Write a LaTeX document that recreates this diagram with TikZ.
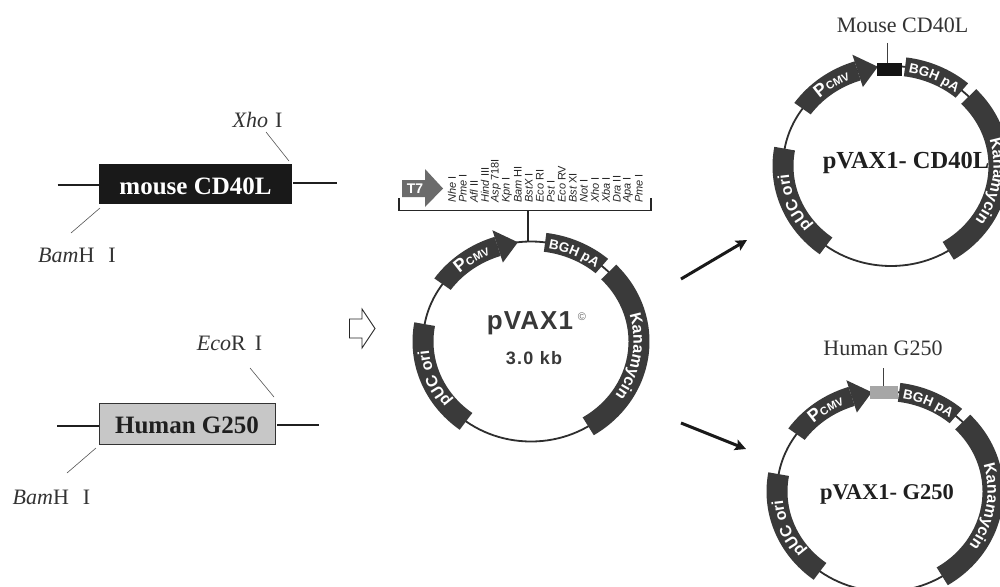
\documentclass[tikz,border=0pt]{standalone}
\usepackage{fontspec}
\setmainfont{Liberation Serif}
\newfontfamily\arialf{Liberation Sans}
\newfontfamily\arialsp[LetterSpace=4]{Liberation Sans}
\newfontfamily\arialsq[LetterSpace=7]{Liberation Sans}
\usetikzlibrary{decorations.text,arrows.meta}
\definecolor{band}{HTML}{3A3A3A}
\definecolor{ringc}{HTML}{2E2E2E}
\definecolor{leader}{HTML}{555555}
\newcommand\fsz[1]{\fontsize{#1}{#1}\selectfont}
\newcommand\bandtxt{\fsz{13.5}\arialf\bfseries}
\newcommand\bandbig{\fsz{16}\arialf\bfseries}
\newcommand\pcmvP{\fsz{18}\arialf\bfseries}
\newcommand\pcmvC{\fsz{11}\arialf\bfseries}
\newcommand\band[4]{% t1,t2,d1,d2
  \fill[band] (#1:108pt+#4 and 100pt+#4)
    arc[start angle=#1,end angle=#2,x radius=108pt+#4,y radius=100pt+#4]
    -- (#2:108pt+#3 and 100pt+#3)
    arc[start angle=#2,end angle=#1,x radius=108pt+#3,y radius=100pt+#3] -- cycle;}
\newcommand\bandlabel[3]{% t1,t2,text
  \path[decorate,decoration={text along path,text={#3},text color=white,text align=center}]
    (#1:102.5pt and 94.5pt) arc[start angle=#1,end angle=#2,x radius=102.5pt,y radius=94.5pt];}
\newcommand\plasmid[2]{%
 \begin{scope}[shift={(#1,#2)},y=1pt]
  \draw[ringc,line width=1.8pt] (0,0) ellipse[x radius=108pt,y radius=100pt];
  \band{170}{233}{-10.5pt}{10.5pt}
  \band{44}{-58}{-10.5pt}{10.5pt}
  \band{82.5}{49}{-9.5pt}{9.5pt}
  \band{145}{108}{-10pt}{10pt}
  \fill[band] (108:108pt+17pt and 100pt+17pt) -- (97:108pt and 100pt) -- (108:108pt-17pt and 100pt-17pt) -- cycle;
  \bandlabel{229}{175}{|\bandbig|pUC ori}
  \bandlabel{38}{-56}{|\bandbig|Kanamycin}
  \bandlabel{84}{47}{|\bandtxt|BGH pA}
  \bandlabel{148}{100}{|\pcmvP|P|\pcmvC|CMV}
 \end{scope}}
\tikzset{
  wire/.style={line width=2pt,black!88},
  lead/.style={leader,line width=0.6pt},
  serif/.style={font=\fsz{22},text=black!80,inner sep=0pt},
  title/.style={font=\fsz{24.5}\bfseries,text=black!88,inner sep=0pt},
  enz/.style={rotate=90,anchor=west,inner sep=0pt,font=\fsz{11}\arialf,text=black!85},
  bigarrow/.style={line width=3pt,black!90,-{Stealth[length=11pt,width=11pt,inset=2pt]}},
  insertbox/.style={inner sep=0pt,font=\fsz{25}\bfseries,text height=20pt,text depth=0pt},
}
\begin{document}
\begin{tikzpicture}[x=1pt,y=-1pt]
\useasboundingbox (0,0) rectangle (1000,586);
\clip (0,0) rectangle (1000,586);
\fill[white] (0,0) rectangle (1000,586);

% mouse insert
\node[insertbox,fill=black!90,minimum width=193pt,minimum height=40pt,text=white] (mbox) at (195.5,184) {mouse CD40L};
\coordinate (ml) at (57.5,184.5); \coordinate (mlb) at (99,184.5);
\coordinate (mr) at (337,183); \coordinate (mrb) at (293,183);
\draw[wire] (ml) -- (mlb);
\draw[wire] (mrb) -- (mr);
\node[serif] (xho) at (257.5,120) {\textit{Xho}\hspace{7pt}I};
\node[serif] (bam1) at (77,255) {\textit{Bam}H\hspace{14pt}I};
\coordinate (xa) at (266,132); \coordinate (xb) at (289,161);
\coordinate (ba) at (71,233); \coordinate (bb) at (100,208);
\draw[lead] (xa) -- (xb);
\draw[lead] (ba) -- (bb);

% human insert
\node[insertbox,draw=black!80,line width=0.9pt,fill=black!22,minimum width=176pt,minimum height=41pt,text=black!88] (hbox) at (187,423.5) {Human G250};
\coordinate (hl) at (57,426); \coordinate (hlb) at (99,426);
\coordinate (hr) at (319,425); \coordinate (hrb) at (277,425);
\draw[wire] (hl) -- (hlb);
\draw[wire] (hrb) -- (hr);
\node[serif] (eco) at (229.5,343) {\textit{Eco}R\hspace{9pt}I};
\node[serif] (bam2) at (51.5,497) {\textit{Bam}H\hspace{14pt}I};
\coordinate (ea) at (250,368); \coordinate (eb) at (274,397);
\coordinate (ca) at (67,473); \coordinate (cb) at (96,448);
\draw[lead] (ea) -- (eb);
\draw[lead] (ca) -- (cb);

% hollow arrow
\draw[black!85,line width=0.9pt] (349.5,319) -- (362,319) -- (362,309) -- (375,328.5) -- (362,348) -- (362,338) -- (349.5,338) -- cycle;

% centre plasmid
\plasmid{531}{341.5}
\node[inner sep=0pt,font=\fsz{26}\arialsp\bfseries,text=black!78] (pv) at (530,323) {pVAX1};
\node[inner sep=0pt,font=\fsz{11}\arialf,text=black!60] (cp) at (582,317) {©};
\node[inner sep=0pt,font=\fsz{18}\arialsq\bfseries,text=black!78] (kb) at (534,358) {3.0 kb};

% MCS bracket
\coordinate (bl) at (399,198); \coordinate (blc) at (399,210.5);
\coordinate (brc) at (651,210.5); \coordinate (br) at (651,198);
\coordinate (st) at (528,210.5); \coordinate (sb) at (528,241);
\draw[black!85,line width=1.8pt] (bl) -- (blc) -- (brc) -- (br);
\draw[black!85,line width=1.4pt] (st) -- (sb);
\fill[black!58] (402,180) -- (425,180) -- (425,169) -- (443,188.5) -- (425,207) -- (425,197) -- (402,197) -- cycle;
\node[inner sep=0pt,text=white,font=\fsz{14}\arialf\bfseries] (t7) at (415,189) {T7};
\foreach \nm/\lab [count=\i from 0] in {a/\textit{Nhe} I,b/\textit{Pme} I,c/\textit{Afl} II,d/\textit{Hind} III,e/\textit{Asp} 718I,f/\textit{Kpn} I,g/\textit{Bam} HI,h/\textit{BstX} I,j/\textit{Eco} RI,k/\textit{Pst} I,l/\textit{Eco} RV,m/\textit{Bst} XI,n/\textit{Not} I,o/\textit{Xho} I,p/\textit{Xba} I,q/\textit{Dra} II,r/\textit{Apa} I,s/\textit{Pme} I}
  \node[enz] (enz\nm) at ({452+11*\i},203) {\lab};

% arrows
\coordinate (a1) at (681,279); \coordinate (a2) at (747,240);
\coordinate (a3) at (681,423); \coordinate (a4) at (746,449);
\draw[bigarrow] (a1) -- (a2);
\draw[bigarrow] (a3) -- (a4);

% upper plasmid
\plasmid{891}{166}
\node[serif] (mc) at (902.5,25) {Mouse CD40L};
\node[fill=black!92,minimum width=25pt,minimum height=13pt,inner sep=0pt] (mins) at (889.5,69.5) {};
\coordinate (mt) at (887.5,43);
\draw[black!75,line width=1pt] (mt) -- (mt |- mins.north);
\node[title] (pc) at (906,163) {pVAX1- CD40L};

% lower plasmid
\plasmid{885}{491.5}
\node[serif] (hc) at (883,348) {Human G250};
\node[fill=black!35,minimum width=28pt,minimum height=13pt,inner sep=0pt] (hins) at (884,392.5) {};
\coordinate (ht) at (883,368);
\draw[black!75,line width=1pt] (ht) -- (ht |- hins.north);
\node[title,font=\fsz{22.5}\bfseries] (pg) at (887,494) {pVAX1- G250};
\end{tikzpicture}
\end{document}
